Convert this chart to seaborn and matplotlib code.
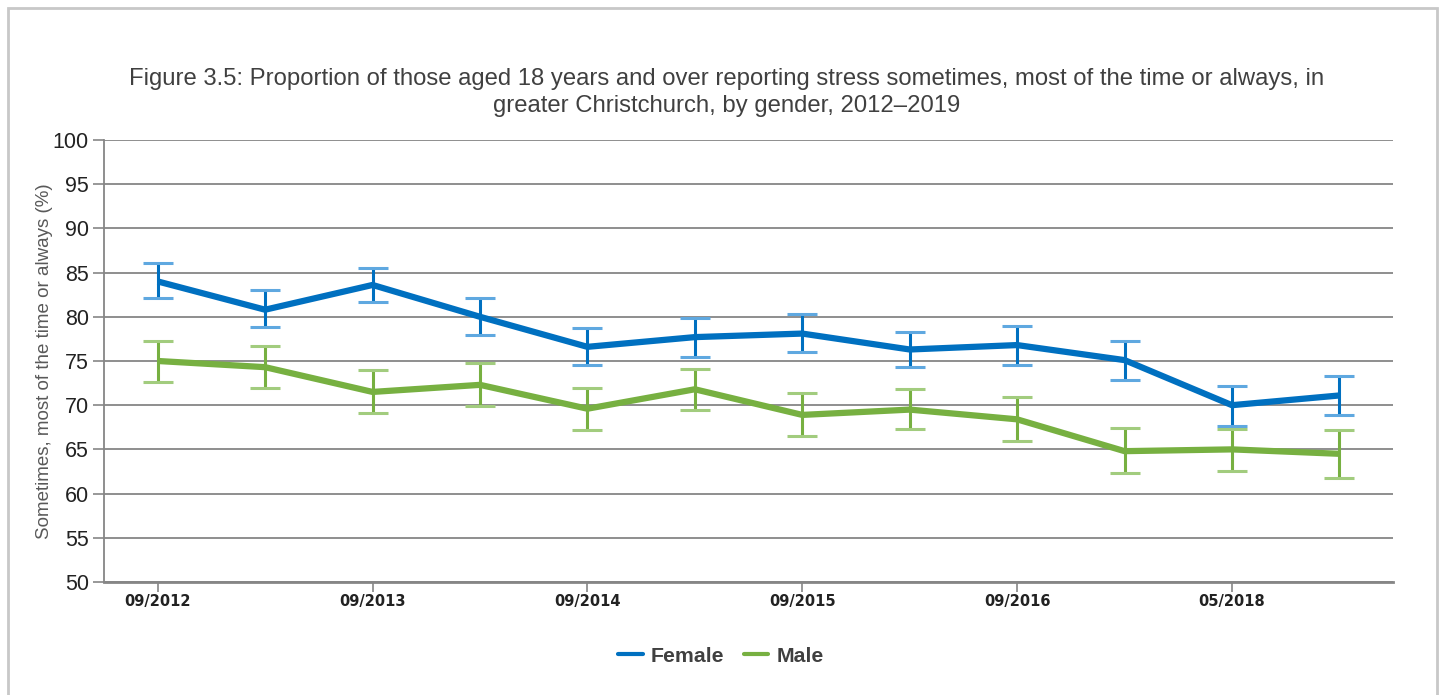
import matplotlib
matplotlib.use("Agg")
import matplotlib.pyplot as plt
import seaborn as sns
import pandas as pd
from matplotlib.patches import Rectangle
from matplotlib.lines import Line2D

periods = ["09/2012", "03/2013", "09/2013", "03/2014", "09/2014", "03/2015",
           "09/2015", "03/2016", "09/2016", "09/2017", "05/2018", "11/2018"]
tick_labels = ["09/2012", "", "09/2013", "", "09/2014", "", "09/2015", "",
               "09/2016", "", "05/2018", ""]

female = [84.0, 80.8, 83.6, 80.0, 76.6, 77.7, 78.1, 76.3, 76.8, 75.1, 70.0, 71.1]
female_hi = [86.1, 83.0, 85.5, 82.1, 78.7, 79.9, 80.3, 78.3, 79.0, 77.3, 72.2, 73.3]
female_lo = [82.1, 78.8, 81.7, 77.9, 74.5, 75.5, 76.0, 74.3, 74.6, 72.9, 67.7, 68.9]

male = [75.0, 74.3, 71.5, 72.3, 69.6, 71.8, 68.9, 69.5, 68.4, 64.8, 65.0, 64.5]
male_hi = [77.3, 76.7, 74.0, 74.8, 72.0, 74.1, 71.4, 71.8, 70.9, 67.4, 67.3, 67.2]
male_lo = [72.6, 71.9, 69.1, 69.9, 67.2, 69.4, 66.5, 67.3, 65.9, 62.3, 62.6, 61.8]

title = ("Figure 3.5: Proportion of those aged 18 years and over reporting stress sometimes, most of the time or always, in\n"
         "greater Christchurch, by gender, 2012\u20132019")
ylabel = "Sometimes, most of the time or always (%)"

colors = {"Female": "#0070C0", "Male": "#77B041"}
cap_colors = {"Female": "#5FA8E0", "Male": "#A2CC7E"}

sns.set_style("white")
plt.rcParams["font.family"] = ["Liberation Sans", "DejaVu Sans"]

pos = list(range(len(periods)))
df = pd.concat([
    pd.DataFrame({"pos": pos, "value": female, "lo": female_lo, "hi": female_hi, "Gender": "Female"}),
    pd.DataFrame({"pos": pos, "value": male, "lo": male_lo, "hi": male_hi, "Gender": "Male"}),
])

fig = plt.figure(figsize=(14.42, 6.95), dpi=100)
ax = fig.add_axes([0.0721, 0.1626, 0.8940, 0.636])

for g in ["Female", "Male"]:
    d = df[df["Gender"] == g]
    err = [d["value"] - d["lo"], d["hi"] - d["value"]]
    eb = ax.errorbar(d["pos"], d["value"], yerr=err, fmt="none", ecolor=colors[g],
                     elinewidth=2.2, capsize=10.8, capthick=2.2, zorder=3)
    for cl in eb[1]:
        cl.set_color(cap_colors[g])
        cl.set_markeredgecolor(cap_colors[g])
        cl.set_markerfacecolor(cap_colors[g])

sns.lineplot(data=df, x="pos", y="value", hue="Gender", palette=colors,
             linewidth=4.5, ax=ax, legend=False, zorder=4, sort=False)
for ln in ax.lines:
    ln.set_solid_capstyle("butt")

ax.set_xlim(-0.5, len(periods) - 0.5)
ax.set_ylim(50, 100)
ax.set_yticks(range(50, 101, 5))
ax.set_yticklabels([str(v) for v in range(50, 101, 5)], fontsize=15.5, color="#222222")
ax.yaxis.grid(True, color="#868686", linewidth=1.3)
ax.set_axisbelow(True)
label_pos = [p for p, t in zip(pos, tick_labels) if t]
ax.set_xticks(label_pos)
ax.set_xticklabels([t for t in tick_labels if t], fontsize=10.5, color="#222222",
                   fontweight="bold", family=["DejaVu Sans"])
ax.tick_params(axis="y", length=8, width=1.2, color="#868686", pad=3, direction="out", left=True)
ax.tick_params(axis="x", length=7, width=1.2, color="#868686", pad=2, direction="out", bottom=True)
ax.set_xlabel("")
ax.set_ylabel(ylabel, fontsize=13.5, color="#595959", labelpad=0)
for s in ["top", "right"]:
    ax.spines[s].set_visible(False)
ax.spines["left"].set_color("#868686")
ax.spines["left"].set_linewidth(1.3)
ax.spines["bottom"].set_color("#868686")
ax.spines["bottom"].set_linewidth(2)

fig.text(0.5042, 0.867, title, ha="center", va="center", fontsize=17.2, color="#404040",
         linespacing=1.25)

handles = [Line2D([0], [0], color=colors[g], linewidth=3) for g in ["Female", "Male"]]
leg = fig.legend(handles, ["Female", "Male"], loc="center", bbox_to_anchor=(0.5, 0.056),
                 ncol=2, frameon=False, handlelength=1.15, handletextpad=0.4,
                 columnspacing=0.9, prop={"size": 15.3, "weight": "bold"})
for t in leg.get_texts():
    t.set_color("#404040")

fig.patches.append(Rectangle((8 / 1442, -0.01), (1437 - 8) / 1442, 1 - 8 / 695 + 0.01,
                             transform=fig.transFigure, fill=False, edgecolor="#C8C8C8",
                             linewidth=2))

fig.savefig("out.png", dpi=100, facecolor="white")
